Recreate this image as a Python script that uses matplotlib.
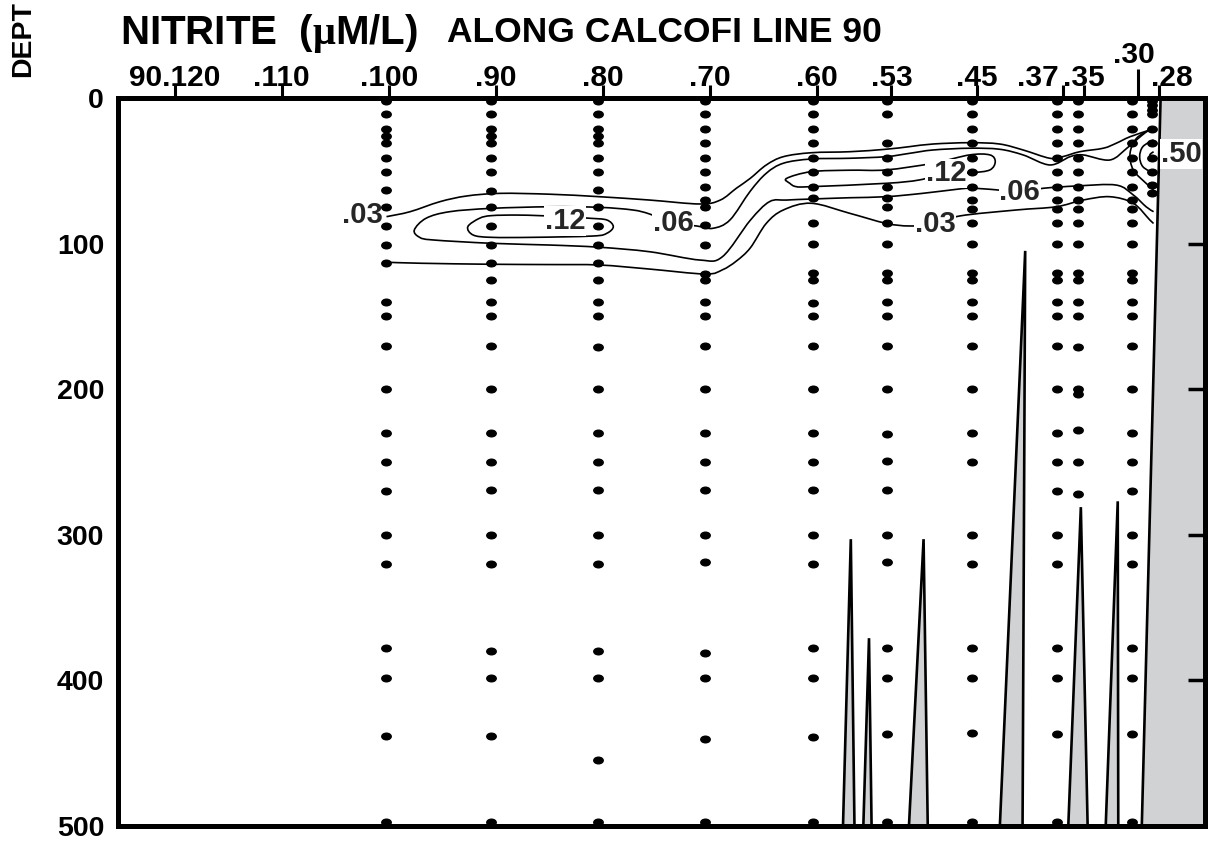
import matplotlib.pyplot as plt
import numpy as np
from matplotlib.patches import PathPatch
from matplotlib.path import Path
from matplotlib.transforms import Affine2D

plt.rcParams["font.family"] = ["Liberation Sans", "DejaVu Sans"]
plt.rcParams["font.weight"] = "bold"
plt.rcParams["mathtext.fontset"] = "custom"
plt.rcParams["mathtext.rm"] = "Liberation Serif"

# stations on CalCOFI line 90 (top axis)
stations = [120, 110, 100, 90, 80, 70, 60, 53, 45, 37, 35, 30, 28]
station_labels = ["90.120", ".110", ".100", ".90", ".80", ".70", ".60",
                  ".53", ".45", ".37", ".35", ".30", ".28"]

# where the casts were actually taken, and the bottle depths (m) of each cast
cast_pos = [100.2, 90.4, 80.4, 70.4, 60.35, 53.4, 45.5, 37.5, 35.6, 30.5, 28.65]
bottles_100 = [2, 11, 21, 26, 31, 41, 51, 63, 75, 88, 101, 113, 140, 150, 170,
               200, 230, 250, 270, 300, 320, 378, 398, 438, 497]
bottles_90 = [2, 11, 21, 26, 31, 41, 51, 64, 75, 88, 101, 113, 125, 140, 150,
              170, 200, 230, 250, 269, 300, 320, 380, 398, 438, 497]
bottles_80 = [2, 11, 21, 26, 31, 41, 51, 63, 75, 88, 101, 113, 125, 140, 150,
              171, 200, 230, 250, 269, 300, 320, 380, 398, 455, 497]
bottles_70 = [2, 11, 21, 31, 41, 51, 61, 70, 75, 87, 101, 121, 125, 140, 150,
              170, 200, 230, 250, 269, 300, 319, 381, 398, 440, 497]
bottles_60 = [2, 11, 21, 31, 41, 51, 61, 69, 86, 100, 120, 125, 141, 150, 170,
              200, 230, 250, 269, 300, 320, 378, 398, 439, 497]
bottles_53 = [2, 11, 31, 41, 51, 61, 69, 75, 86, 100, 120, 125, 140, 150, 170,
              200, 231, 249, 269, 300, 319, 378, 398, 437, 497]
bottles_45 = [2, 11, 21, 31, 41, 51, 61, 70, 76, 86, 100, 120, 125, 140, 150,
              170, 200, 230, 250, 300, 320, 378, 398, 436, 497]
bottles_37 = [2, 11, 21, 31, 41, 51, 61, 70, 76, 86, 100, 120, 125, 140, 150,
              170, 200, 230, 250, 270, 300, 320, 378, 398, 437, 497]
bottles_35 = [2, 11, 21, 31, 41, 51, 61, 70, 76, 86, 100, 120, 125, 140, 150,
              171, 200, 203, 228, 250, 272]
bottles_30 = [2, 11, 21, 31, 41, 51, 61, 70, 76, 86, 100, 120, 125, 140, 150,
              170, 200, 230, 250, 270, 300, 320, 378, 398, 437, 497]
bottles_28 = [2, 5, 8, 11, 21, 31, 41, 51, 60, 65]
bottles = [bottles_100, bottles_90, bottles_80, bottles_70, bottles_60, bottles_53,
           bottles_45, bottles_37, bottles_35, bottles_30, bottles_28]

# bottom profile (station, depth in m)
bottom_st = [126.0, 57.55, 56.8, 56.45, 55.65, 55.1, 54.85, 51.4, 50.0, 49.6,
             42.9, 40.5, 40.75, 36.5, 35.3, 34.65, 33.0, 31.85, 31.8, 29.62, 27.81]
bottom_dp = [505, 505, 303, 505, 505, 371, 505, 505, 303, 505,
             505, 105, 505, 505, 281, 505, 505, 277, 505, 505, -10]

# nitrite isolines (station, depth)
c03_upper = [(100.2, 81.5), (98.0, 78.1), (95.2, 71.2), (92.7, 67.3), (89.6, 65.5),
             (84.9, 66.1), (80.3, 67.8), (75.6, 70.1), (70.9, 72.8), (69.0, 70.1),
             (67.5, 62.0), (66.2, 55.2), (64.7, 46.0), (63.1, 40.3), (60.5, 37.6),
             (56.9, 36.9), (53.5, 35.2), (51.3, 33.4), (49.1, 31.6), (45.7, 30.7),
             (42.9, 31.6), (40.7, 35.7), (38.2, 41.4), (37.0, 40.3), (35.4, 36.9),
             (33.2, 34.5), (32.0, 31.1), (30.7, 26.6), (28.85, 22.0)]
c03_lower = [(100.2, 112.8), (97.0, 113.5), (90.4, 114.2), (85.0, 114.4), (80.3, 114.7),
             (75.6, 117.5), (70.4, 120.9), (68.8, 118.0), (67.5, 112.0), (66.2, 103.0),
             (64.7, 86.1), (63.1, 76.9), (60.5, 72.3), (56.9, 79.2), (53.5, 86.1),
             (51.3, 87.9), (48.9, 86.5), (46.6, 81.0), (41.3, 76.9), (37.6, 74.7),
             (35.1, 70.1), (32.6, 67.8), (30.4, 72.3), (28.85, 83.8), (28.5, 86.1)]
c06 = [(28.7, 21.4), (29.2, 23.4), (30.1, 28.8), (31.0, 34.5), (32.6, 42.6),
       (35.1, 39.1), (36.3, 40.3), (38.2, 46.0), (40.7, 39.1), (42.9, 35.2),
       (45.7, 34.5), (49.1, 35.7), (51.3, 38.0), (53.5, 40.3), (56.9, 41.4),
       (60.5, 41.9), (63.1, 44.8), (64.7, 51.7), (66.2, 64.0), (68.1, 83.8),
       (69.7, 89.5), (71.2, 87.9), (73.4, 86.0), (75.6, 79.7), (77.2, 76.9),
       (80.3, 75.1), (84.9, 74.7), (90.4, 75.8), (94.3, 78.1), (96.5, 82.6),
       (97.6, 90.7), (97.1, 95.7), (95.85, 97.5), (90.4, 99.8), (84.9, 101.0),
       (80.3, 102.5), (75.6, 105.6), (70.9, 111.3), (68.8, 109.0), (66.2, 84.0),
       (64.4, 71.2), (62.8, 70.1), (60.5, 69.4), (56.9, 68.5), (53.5, 67.8),
       (50.1, 65.5), (46.9, 62.7), (45.7, 62.0), (43.8, 62.7), (41.0, 64.3),
       (38.8, 62.0), (35.6, 60.4), (32.0, 59.8), (30.4, 66.6), (29.2, 74.7),
       (28.5, 78.1)]
c12_offshore = [(92.6, 88.4), (91.5, 82.6), (90.4, 80.8), (88.1, 80.4), (85.9, 80.8),
                (83.7, 81.5), (81.2, 82.6), (79.6, 83.8), (79.0, 88.4), (79.6, 92.9),
                (80.9, 94.8), (86.5, 95.7), (90.4, 95.7), (92.1, 94.1), (92.6, 88.4)]
c12_mid = [(62.8, 55.2), (60.5, 50.6), (56.9, 49.6), (53.5, 49.4), (49.1, 44.8),
           (45.7, 39.1), (43.8, 39.1), (43.3, 43.7), (43.8, 49.4), (45.5, 51.3),
           (47.9, 51.7), (50.4, 56.3), (53.5, 58.6), (60.5, 60.9), (61.9, 60.9),
           (62.5, 58.6), (62.8, 55.2)]
c12_coast = [(28.7, 21.0), (30.1, 27.7), (30.7, 38.0), (30.4, 49.4), (29.2, 58.6),
             (28.5, 63.2)]
c25_coast = [(28.5, 28.8), (29.5, 33.4), (29.8, 40.3), (29.5, 47.2), (28.5, 51.7)]
c50_coast = [(28.5, 36.9), (28.85, 39.1), (28.7, 42.6)]
isolines = [c03_upper, c03_lower, c06, c12_offshore, c12_mid, c12_coast, c25_coast, c50_coast]

# contour labels: text, station, depth
iso_labels = [(".03", 102.5, 80.4), (".12", 83.5, 84.5), (".06", 73.4, 85.8),
              (".12", 47.9, 51.7), (".06", 41.0, 64.9), (".03", 48.9, 86.5),
              (".50", 25.9, 38.5)]


def smooth_path(points):
    # Catmull-Rom through the points, written out as cubic Bezier segments
    p = np.asarray(points, dtype=float)
    closed = np.allclose(p[0], p[-1])
    if closed:
        p = p[:-1]
    n = len(p)
    verts = [p[0]]
    codes = [Path.MOVETO]
    last = n if closed else n - 1
    for i in range(last):
        if closed:
            p0, p1, p2, p3 = p[i - 1], p[i], p[(i + 1) % n], p[(i + 2) % n]
        else:
            p0 = p[max(i - 1, 0)]
            p1, p2 = p[i], p[i + 1]
            p3 = p[min(i + 2, n - 1)]
        verts += [p1 + (p2 - p0) / 6, p2 - (p3 - p1) / 6, p2]
        codes += [Path.CURVE4] * 3
    return Path(verts, codes)


fig = plt.figure(figsize=(12.11, 8.44), dpi=100)
ax = fig.add_axes([0.0974, 0.0213, 0.8976, 0.8626])
ax.set_xlim(125.3, 23.7)
ax.set_ylim(500, 0)

# sea floor
ax.fill(bottom_st + [23.0, 23.0, 126.0], bottom_dp + [-10, 600, 600],
        facecolor="#d1d2d4", edgecolor="black", lw=1.9, zorder=1)

for line in isolines:
    ax.add_patch(PathPatch(smooth_path(line), fill=False, edgecolor="black",
                           lw=1.2, zorder=2))

for text, st, dp in iso_labels:
    ax.text(st, dp, text, ha="center", va="center", fontsize=21, color="#262626",
            bbox=dict(facecolor="white", edgecolor="none", pad=0.5), zorder=3)

# bottle positions as small flattened dots
dot = Path.unit_circle().transformed(Affine2D().scale(1.0, 0.7))
for x, depths in zip(cast_pos, bottles):
    ax.plot([x] * len(depths), depths, ls="none", marker=dot, ms=6.8,
            color="black", zorder=5, clip_on=False)

for side in ax.spines.values():
    side.set_linewidth(3.6)
    side.set_zorder(6)

ax.xaxis.set_ticks_position("top")
ax.set_xticks([s for s in stations if s != 30])
ax.set_xticks([30], minor=True)
ax.tick_params(axis="x", which="major", direction="out", length=9.5, width=2.2,
               top=True, bottom=False, labeltop=False, labelbottom=False)
ax.tick_params(axis="x", which="minor", direction="out", length=21, width=2.2,
               top=True, bottom=False)

label_shift = {".37": (-18, 8.6), ".28": (9.5, 8.6), ".30": (-3, 25)}
for st, lab in zip(stations, station_labels):
    dx, dy = label_shift.get(lab, (0, 8.6))
    ax.annotate(lab, xy=(st, 1), xycoords=("data", "axes fraction"),
                xytext=(dx, dy), textcoords="offset points",
                ha="center", va="baseline", fontsize=21.5)

ax.set_yticks([0, 100, 200, 300, 400, 500])
ax.set_yticklabels(["0", "100", "200", "300", "400", "500"])
ax.tick_params(axis="y", left=False, right=True, direction="in", length=12,
               width=2.5, labelleft=True, labelsize=20.5, pad=10)

fig.text(0.0991, 0.948, r"NITRITE  ($\mathrm{\mu}$M/L)", fontsize=29, va="baseline")
fig.text(0.369, 0.950, "ALONG CALCOFI LINE 90", fontsize=25.5, va="baseline")
fig.text(0.019, 0.909, "DEPT", rotation=90, ha="center", va="bottom", fontsize=20.5)

fig.savefig("out.png", dpi=100)
